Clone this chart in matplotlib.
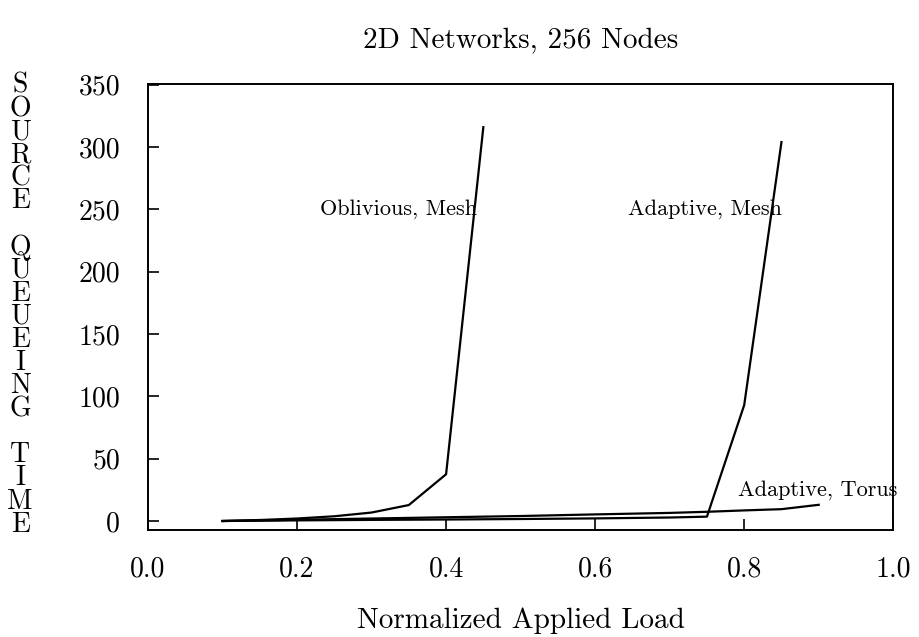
import matplotlib
matplotlib.use('Agg')
import matplotlib.pyplot as plt

plt.rcParams['font.family'] = ['cmr10', 'DejaVu Serif']
plt.rcParams['axes.formatter.use_mathtext'] = True

# applied load (x) and source queueing time (y)
obl_mesh_x = [0.10, 0.15, 0.20, 0.25, 0.30, 0.35, 0.40, 0.45]
obl_mesh_y = [0.0, 0.8, 2.0, 3.8, 6.8, 12.8, 37.5, 316.0]

ada_mesh_x = [0.10, 0.20, 0.30, 0.40, 0.50, 0.60, 0.70, 0.75, 0.80, 0.85]
ada_mesh_y = [0.0, 0.5, 0.9, 1.2, 1.6, 2.1, 2.8, 3.5, 93.0, 304.0]

ada_torus_x = [0.10, 0.20, 0.30, 0.40, 0.50, 0.60, 0.70, 0.75, 0.80, 0.85, 0.90]
ada_torus_y = [0.0, 1.0, 2.0, 3.0, 4.0, 5.3, 6.5, 7.4, 8.5, 9.5, 13.0]

labels = ['Oblivious, Mesh', 'Adaptive, Mesh', 'Adaptive, Torus']
label_pos = [(0.231, 250), (0.644, 250), (0.792, 25)]

xticks = [0.0, 0.2, 0.4, 0.6, 0.8, 1.0]
yticks = [0, 50, 100, 150, 200, 250, 300, 350]

fig = plt.figure(figsize=(9.19, 6.37), dpi=100)
ax = fig.add_axes([0.161, 0.168, 0.811, 0.70])

for xs, ys in [(obl_mesh_x, obl_mesh_y), (ada_mesh_x, ada_mesh_y), (ada_torus_x, ada_torus_y)]:
    ax.plot(xs, ys, color='black', linewidth=1.6)

for txt, (tx, ty) in zip(labels, label_pos):
    ax.text(tx, ty, txt, fontsize=16, ha='left', va='center')

ax.set_xlim(0.0, 1.0)
ax.set_ylim(-7.2, 350.5)
ax.set_xticks(xticks)
ax.set_xticklabels([f'{t:.1f}' for t in xticks])
ax.set_yticks(yticks)
ax.set_yticklabels([str(t) for t in yticks])
ax.tick_params(direction='in', length=8, width=1.2, labelsize=20)
ax.tick_params(axis='y', pad=20)
ax.tick_params(axis='x', pad=19)
for s in ax.spines.values():
    s.set_linewidth(1.4)

ax.set_xlabel('Normalized Applied Load', fontsize=21, labelpad=18)
ax.set_title('2D Networks, 256 Nodes', fontsize=21, pad=26)

ylab = '\n'.join(list('SOURCE') + [''] + list('QUEUEING') + [''] + list('TIME'))
fig.text(0.022, 0.521, ylab, fontsize=20, ha='center', va='center', linespacing=0.84)

fig.savefig('out.png', dpi=100)
